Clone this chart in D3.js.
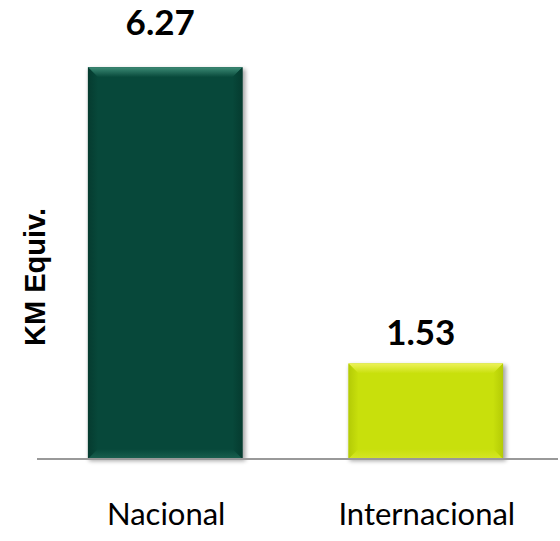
<!DOCTYPE html>
<html>
<head>
<meta charset="utf-8">
<script src="https://cdn.jsdelivr.net/npm/d3@7"></script>
<style>
  body { margin: 0; background: #fff; }
  svg { display: block; }
</style>
</head>
<body>
<div id="chart"></div>
<script>
"use strict";

// data
var categories = ["Nacional", "Internacional"];
var values = [6.27, 1.53];
var axisTitle = "KM Equiv.";

// styles (one per bar)
var baseColors = ["#07483a", "#c8e00c"];
var topColors = ["#3d8c76", "#eef25a"];
var sideColors = ["#053b2f", "#b4cb06"];
var labelGap = [32, 18];

var width = 560,
    height = 541,
    baseY = 459,
    bevel = 10;

var svg = d3.select("#chart").append("svg")
    .attr("width", width)
    .attr("height", height);

var defs = svg.append("defs");

var shadow = defs.append("filter").attr("id", "shadow")
    .attr("x", "-10%").attr("y", "-10%").attr("width", "130%").attr("height", "130%");
shadow.append("feGaussianBlur").attr("stdDeviation", 2);

//Gradients for the bevel faces
baseColors.forEach(function (c, i) {
    var g = defs.append("linearGradient").attr("id", "top" + i)
        .attr("x1", 0).attr("y1", 0).attr("x2", 0).attr("y2", 1);
    g.append("stop").attr("offset", "0%").attr("stop-color", topColors[i]);
    g.append("stop").attr("offset", "100%").attr("stop-color", c);

    var l = defs.append("linearGradient").attr("id", "left" + i)
        .attr("x1", 0).attr("y1", 0).attr("x2", 1).attr("y2", 0);
    l.append("stop").attr("offset", "0%").attr("stop-color", sideColors[i]);
    l.append("stop").attr("offset", "100%").attr("stop-color", c);

    var r = defs.append("linearGradient").attr("id", "right" + i)
        .attr("x1", 1).attr("y1", 0).attr("x2", 0).attr("y2", 0);
    r.append("stop").attr("offset", "0%").attr("stop-color", sideColors[i]);
    r.append("stop").attr("offset", "100%").attr("stop-color", c);

    var b = defs.append("linearGradient").attr("id", "bottom" + i)
        .attr("x1", 0).attr("y1", 1).attr("x2", 0).attr("y2", 0);
    b.append("stop").attr("offset", "0%").attr("stop-color", d3.interpolateRgb(c, topColors[i])(0.35));
    b.append("stop").attr("offset", "100%").attr("stop-color", c);
});

var xScale = d3.scaleBand()
    .domain(categories)
    .range([40, 551])
    .paddingInner(0.407)
    .paddingOuter(0.184);

var yScale = d3.scaleLinear()
    .domain([0, 7])
    .range([baseY, baseY - 7 * 62.5]);

var bars = values.map(function (v, i) {
    return {
        cat: categories[i], value: v, i: i,
        x: xScale(categories[i]), w: xScale.bandwidth(),
        y: yScale(v), h: yScale(0) - yScale(v)
    };
});

var barG = svg.append("g").attr("class", "bars");

//shadows
barG.selectAll("rect.shadow").data(bars).enter().append("rect")
    .attr("class", "shadow")
    .attr("x", function (d) { return d.x + 1; })
    .attr("y", function (d) { return d.y + 2; })
    .attr("width", function (d) { return d.w + 2; })
    .attr("height", function (d) { return d.h; })
    .attr("fill", "#000")
    .attr("opacity", 0.35)
    .attr("filter", "url(#shadow)");

// axis line
svg.append("line")
    .attr("x1", 37).attr("x2", 558)
    .attr("y1", yScale(0)).attr("y2", yScale(0))
    .attr("stroke", "#999").attr("stroke-width", 2);

barG.selectAll("rect.bar").data(bars).enter().append("rect")
    .attr("class", "bar")
    .attr("x", function (d) { return d.x; })
    .attr("y", function (d) { return d.y; })
    .attr("width", function (d) { return d.w; })
    .attr("height", function (d) { return d.h; })
    .attr("fill", function (d) { return baseColors[d.i]; });

function pts(arr) { return arr.map(function (p) { return p.join(","); }).join(" "); }

bars.forEach(function (d) {
    var x0 = d.x, x1 = d.x + d.w, y0 = d.y, y1 = d.y + d.h, b = bevel;
    barG.append("polygon").attr("points", pts([[x0, y0], [x1, y0], [x1 - b, y0 + b], [x0 + b, y0 + b]]))
        .attr("fill", "url(#top" + d.i + ")");
    barG.append("polygon").attr("points", pts([[x0, y0], [x0 + b, y0 + b], [x0 + b, y1 - b], [x0, y1]]))
        .attr("fill", "url(#left" + d.i + ")");
    barG.append("polygon").attr("points", pts([[x1, y0], [x1 - b, y0 + b], [x1 - b, y1 - b], [x1, y1]]))
        .attr("fill", "url(#right" + d.i + ")");
    barG.append("polygon").attr("points", pts([[x0, y1], [x0 + b, y1 - b], [x1 - b, y1 - b], [x1, y1]]))
        .attr("fill", "url(#bottom" + d.i + ")");
});

//value labels
svg.selectAll("text.value").data(bars).enter().append("text")
    .attr("class", "value")
    .attr("x", function (d) { return d.x + d.w / 2 - 5; })
    .attr("y", function (d) { return d.y - labelGap[d.i]; })
    .attr("text-anchor", "middle")
    .attr("font-family", "Lato, 'Open Sans', sans-serif")
    .attr("font-weight", "bold")
    .attr("font-size", 35)
    .attr("fill", "#000")
    .text(function (d) { return d.value.toFixed(2); });

//category labels
svg.selectAll("text.cat").data(bars).enter().append("text")
    .attr("class", "cat")
    .attr("x", function (d) { return d.x + d.w / 2 + 1; })
    .attr("y", 525)
    .attr("text-anchor", "middle")
    .attr("font-family", "Lato, 'Open Sans', sans-serif")
    .attr("font-size", 31)
    .attr("fill", "#000")
    .text(function (d) { return d.cat; });

// axis title
svg.append("text")
    .attr("transform", "translate(45,277) rotate(-90)")
    .attr("text-anchor", "middle")
    .attr("font-family", "'Liberation Sans', Arial, sans-serif")
    .attr("font-weight", "bold")
    .attr("font-size", 29)
    .attr("fill", "#000")
    .text(axisTitle);
</script>
</body>
</html>
